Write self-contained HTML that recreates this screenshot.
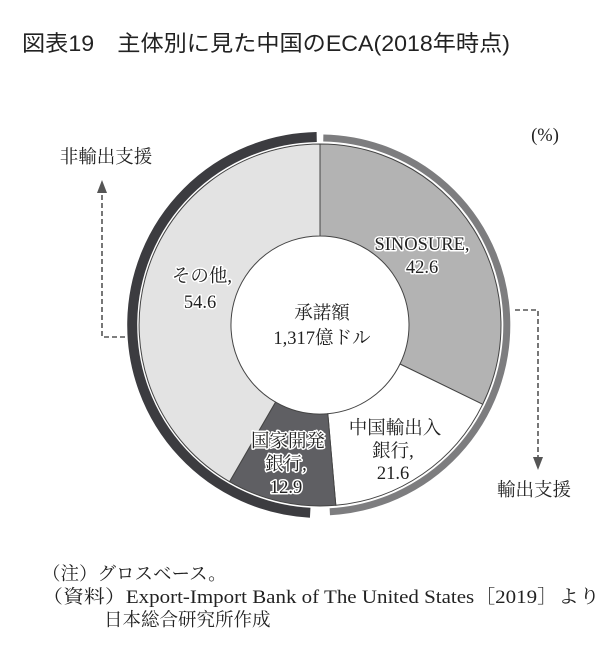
<!DOCTYPE html>
<html><head><meta charset="utf-8"><style>
body{margin:0;background:#fff;}
svg text{font-family:"Liberation Serif","Noto Serif CJK SC",serif;fill:#222;}
.t{font-family:"Liberation Sans","Noto Sans CJK JP",sans-serif;}
.h{paint-order:stroke;stroke:#fff;stroke-width:3px;stroke-linejoin:round;}
</style></head><body>
<svg width="614" height="644" viewBox="0 0 614 644" xmlns="http://www.w3.org/2000/svg">
<text class="t" x="22" y="51" font-size="22" textLength="488" lengthAdjust="spacingAndGlyphs" style="fill:#222">図表19　主体別に見た中国のECA(2018年時点)</text>
<g stroke="#444" stroke-width="1">
<path d="M320,144 A181,181 0 0 1 482.7,404.3 L400,364 A89,89 0 0 0 320,236 Z" fill="#b3b3b3"/>
<path d="M482.7,404.3 A181,181 0 0 1 335.8,505.3 L327.8,413.7 A89,89 0 0 0 400,364 Z" fill="#fff"/>
<path d="M335.8,505.3 A181,181 0 0 1 229.5,481.7 L275.5,402.1 A89,89 0 0 0 327.8,413.7 Z" fill="#5f5f63"/>
<path d="M229.5,481.7 A181,181 0 0 1 320,144 L320,236 A89,89 0 0 0 275.5,402.1 Z" fill="#e3e3e3"/>
</g>
<path d="M310.2,512.7 A188,188 0 0 1 316.7,137" fill="none" stroke="#3c3c40" stroke-width="10"/>
<path d="M323.3,138 A187,187 0 0 1 329.8,511.7" fill="none" stroke="#7d7d7f" stroke-width="7"/>
<g fill="none" stroke="#555" stroke-width="1.6" stroke-dasharray="5,3">
<path d="M125,337 H102 V192"/>
<path d="M515,310 H538 V458"/>
</g>
<path d="M97,193 L102,180 L107,193 Z" fill="#555"/>
<path d="M533,457 L538,470 L543,457 Z" fill="#555"/>
<g font-size="18.5" text-anchor="middle">
<text x="545" y="141">(%)</text>
<text x="106" y="163">非輸出支援</text>
<text x="534" y="496">輸出支援</text>
<text class="h" x="422" y="250">SINOSURE,</text>
<text class="h" x="422" y="273">42.6</text>
<text class="h" x="202" y="282">その他,</text>
<text class="h" x="200" y="308">54.6</text>
<text x="322" y="319">承諾額</text>
<text x="322" y="344">1,317億ドル</text>
<text class="h" x="395" y="434">中国輸出入</text>
<text class="h" x="393" y="457">銀行,</text>
<text class="h" x="393" y="479">21.6</text>
<text class="h" x="288" y="447">国家開発</text>
<text class="h" x="286" y="470">銀行,</text>
<text class="h" x="286" y="493">12.9</text>
</g>
<g font-size="18.5">
<text x="42" y="580">（注）グロスベース。</text>
<text x="42" y="603" textLength="558" lengthAdjust="spacingAndGlyphs">（資料）Export-Import Bank of The United States［2019］より</text>
<text x="104" y="626">日本総合研究所作成</text>
</g>
</svg>
</body></html>
